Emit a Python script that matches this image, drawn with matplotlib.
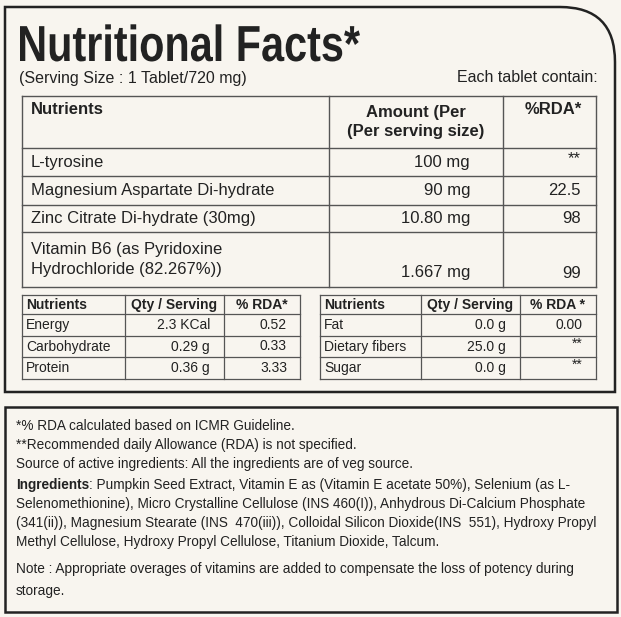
import matplotlib.pyplot as plt
from matplotlib.patches import Rectangle, PathPatch
from matplotlib.path import Path
from matplotlib.textpath import TextPath
from matplotlib.font_manager import FontProperties
from matplotlib.transforms import Affine2D

FONT = ["Liberation Sans Narrow", "Liberation Sans", "DejaVu Sans"]
INK = "#222222"
BG = "#f8f5ef"

title = "Nutritional Facts*"
serving = "(Serving Size : 1 Tablet/720 mg)"
each = "Each tablet contain:"

main_head = ["Nutrients", "Amount (Per\n(Per serving size)", "%RDA*"]
main_names = ["L-tyrosine", "Magnesium Aspartate Di-hydrate",
              "Zinc Citrate Di-hydrate (30mg)", "Vitamin B6 (as Pyridoxine\nHydrochloride (82.267%))"]
main_amount = ["100 mg", "90 mg", "10.80 mg", "1.667 mg"]
main_rda = ["**", "22.5", "98", "99"]

small_head_l = ["Nutrients", "Qty / Serving", "% RDA*"]
small_names_l = ["Energy", "Carbohydrate", "Protein"]
small_qty_l = ["2.3 KCal", "0.29 g", "0.36 g"]
small_rda_l = ["0.52", "0.33", "3.33"]
small_head_r = ["Nutrients", "Qty / Serving", "% RDA *"]
small_names_r = ["Fat", "Dietary fibers", "Sugar"]
small_qty_r = ["0.0 g", "25.0 g", "0.0 g"]
small_rda_r = ["0.00", "**", "**"]

notes = [
    "*% RDA calculated based on ICMR Guideline.",
    "**Recommended daily Allowance (RDA) is not specified.",
    "Source of active ingredients: All the ingredients are of veg source.",
]
ingredients = [
    ("Ingredients", ": Pumpkin Seed Extract, Vitamin E as (Vitamin E acetate 50%), Selenium (as L-"),
    ("", "Selenomethionine), Micro Crystalline Cellulose (INS 460(I)), Anhydrous Di-Calcium Phosphate"),
    ("", "(341(ii)), Magnesium Stearate (INS  470(iii)), Colloidal Silicon Dioxide(INS  551), Hydroxy Propyl"),
    ("", "Methyl Cellulose, Hydroxy Propyl Cellulose, Titanium Dioxide, Talcum."),
]
note = ["Note : Appropriate overages of vitamins are added to compensate the loss of potency during",
        "storage."]

fig = plt.figure(figsize=(6.21, 6.17), dpi=100)
fig.patch.set_facecolor(BG)
ax = fig.add_axes([0, 0, 1, 1])
ax.set_xlim(0, 621)
ax.set_ylim(617, 0)
ax.axis("off")

def txt(x, y, s, size, weight="normal", ha="left", va="center", **kw):
    ax.text(x, y, s, fontsize=size, fontweight=weight, ha=ha, va=va,
            family=FONT, color=INK, **kw)

# outer box with rounded top-right corner
r = 55
verts = [(5, 392), (5, 7), (615 - r, 7), (615, 7), (615, 7 + r), (615, 392), (5, 392)]
codes = [Path.MOVETO, Path.LINETO, Path.LINETO, Path.CURVE3, Path.CURVE3, Path.LINETO, Path.CLOSEPOLY]
ax.add_patch(PathPatch(Path(verts, codes), fill=False, lw=1.8, ec=INK))
ax.add_patch(Rectangle((5, 407), 612, 205, fill=False, lw=1.8, ec=INK))

# condensed bold title drawn as a squeezed text path
tp = TextPath((0, 0), title, size=50, prop=FontProperties(family=FONT, weight="bold"))
ext = tp.get_extents()
sx = (360 - 20) / ext.width
sy = 40 / ext.height * 1.0
tr = Affine2D().translate(-ext.x0, 0).scale(sx, -sy * 0.93).translate(20, 61)
ax.add_patch(PathPatch(tr.transform_path(tp), fc=INK, ec="none"))

txt(19, 78, serving, 11.5)
txt(598, 78, each, 11.5, ha="right")

def grid(x0, x1, cols, rows, lw=1.0):
    for y in rows:
        ax.plot([x0, x1], [y, y], color="#555555", lw=lw)
    for x in [x0] + cols + [x1]:
        ax.plot([x, x], [rows[0], rows[-1]], color="#555555", lw=lw)

# main table
mrows = [96, 148, 176, 205, 232, 287]
grid(22, 596, [329, 503], mrows)
txt(31, 110, main_head[0], 12, weight="bold")
txt(416, 122, main_head[1], 12, weight="bold", ha="center", linespacing=1.3)
txt(582, 110, main_head[2], 12, weight="bold", ha="right")
for i in range(len(main_names)):
    y0, y1 = mrows[i + 1], mrows[i + 2]
    if "\n" in main_names[i]:
        txt(31, (y0 + y1) / 2, main_names[i], 12, linespacing=1.35)
        yv = y1 - 14
    else:
        txt(31, (y0 + y1) / 2, main_names[i], 12)
        yv = (y0 + y1) / 2
    txt(470, yv, main_amount[i], 12, ha="right")
    txt(581, yv - (3 if main_rda[i] == "**" else 0), main_rda[i], 12, ha="right")

# small tables
srows = [295, 314, 336, 357, 379]
def small(x0, x1, cols, head, names, qty, rda):
    grid(x0, x1, cols, srows, lw=0.9)
    txt(x0 + 4, 305, head[0], 10, weight="bold")
    txt((cols[0] + cols[1]) / 2, 305, head[1], 10, weight="bold", ha="center")
    txt((cols[1] + x1) / 2, 305, head[2], 10, weight="bold", ha="center")
    for i in range(3):
        y = (srows[i + 1] + srows[i + 2]) / 2
        txt(x0 + 4, y, names[i], 10)
        txt(cols[1] - 14, y, qty[i], 10, ha="right")
        txt(x1 - 13, y - (3 if rda[i] == "**" else 0), rda[i], 10, ha="right")

small(22, 300, [125, 224], small_head_l, small_names_l, small_qty_l, small_rda_l)
small(320, 596, [421, 520], small_head_r, small_names_r, small_qty_r, small_rda_r)

# notes
ys = [426, 445, 464]
for y, s in zip(ys, notes):
    txt(16, y, s, 9.8)
for k, (b, s) in enumerate(ingredients):
    y = 485 + k * 19
    if b:
        t = ax.text(16, y, b, fontsize=9.8, fontweight="bold", va="center",
                    family=FONT, color=INK)
        fig.canvas.draw()
        bb = t.get_window_extent().transformed(ax.transData.inverted())
        txt(bb.x1, y, s, 9.8)
    else:
        txt(16, y, s, 9.8)
txt(16, 569, note[0], 9.8)
txt(16, 591, note[1], 9.8)

fig.savefig("out.png", dpi=100, facecolor=BG)
